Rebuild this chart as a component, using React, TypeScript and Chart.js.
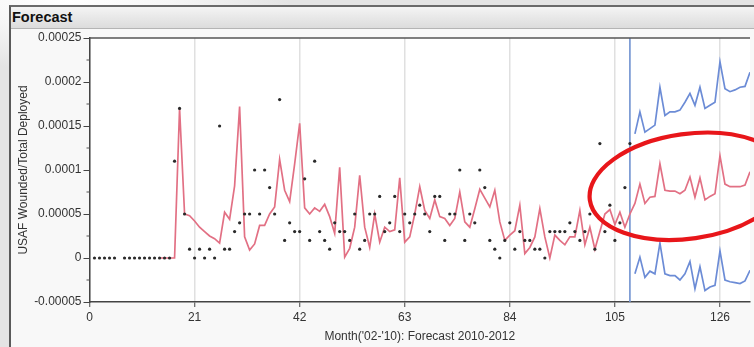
import React, { useEffect, useRef } from "react";
import { Chart, registerables } from "chart.js";

Chart.register(...registerables);

// All series values in units of 0.00001
const UNIT = 0.00001;

// Observed monthly values, months 1..108 (null = no point drawn)
const actualStartMonth = 1;
const actualValues: (number | null)[] = [
  0, 0, 0, 0, 0, null, 0, 0, 0, 0,
  0, 0, 0, 0, 0, 0, 11, 17, 5, 1,
  0, 1, 0, 1, 0, 15, 1, 1, 3, 4,
  5, 5, 10, 5, 10, 8, 5, 18, 2, 4,
  3, 3, 9, 2, 11, 3, 2, 1, 4, 3,
  3, 2, 5, 1, 2, 5, 5, 7, 3, 4,
  7, 3, 5, 4, 5, 6, 5, 3, 7, 7,
  2, 5, 5, 10, 2, 5, 4, 10, 8, 2,
  1, 0, 2, 4, 1, 3, 2, 2, 1, 1,
  0, 3, 3, 3, 3, 4, 3, 2, 3, 5,
  1, 13, 3, 6, 2, 4, 8, 13,
];

// Predicted / forecast values, months 14..132
const predictedStartMonth = 14;
const predictedValues: number[] = [
  0, 0, 0, 0, 17.0, 5.0, 4.8, 4.2, 3.5, 3.0,
  2.5, 2.2, 1.7, 5.2, 4.4, 8.2, 17.2, 2.4, 0.9, 1.6,
  3.7, 3.7, 5.0, 5.8, 11.2, 7.7, 6.4, 10.7, 15.3, 5.7,
  5.0, 5.7, 5.3, 6.1, 4.7, 2.8, 10.3, 0.1, 1.1, 3.5,
  9.4, 3.5, 1.2, 5.0, 1.8, 3.5, 3.0, 3.2, 9.1, 1.8,
  2.4, 5.0, 8.1, 5.4, 4.5, 6.6, 4.7, 4.5, 3.7, 4.5,
  7.5, 4.1, 3.5, 5.6, 7.8, 6.8, 5.8, 7.7, 4.1, 2.0,
  2.6, 3.1, 6.0, 0.5, 1.2, 2.4, 5.6, 2.4, 0.0, 2.6,
  2.0, 1.5, 2.4, 2.4, 5.4, 1.5, 3.5, 1.0, 3.0, 5.0,
  5.5, 3.8, 5.2, 3.5, 5.0, 6.2, 8.4, 6.2, 6.9, 7.0,
  10.7, 7.7, 7.6, 7.6, 7.3, 7.7, 9.2, 6.9, 9.1, 6.6,
  7.0, 7.3, 11.6, 8.4, 8.1, 8.1, 8.1, 8.3, 9.8,
];

// Confidence limits, months 109..132
const boundStartMonth = 109;
const upperValues: number[] = [
  14.1, 16.6, 14.3, 14.7, 15.1, 19.4, 16.2, 16.6, 16.6, 16.8,
  17.7, 18.7, 17.35, 19.4, 17.0, 17.35, 17.7, 22.3, 19.25, 18.9,
  19.1, 19.4, 19.5, 21.1,
];
const lowerValues: number[] = [
  -1.8, 0.1, -2.2, -1.5, -1.8, 1.7, -1.8, -2.0, -2.0, -2.5,
  -1.8, -0.4, -3.5, -1.0, -3.7, -3.3, -3.1, 0.8, -2.5, -2.7,
  -2.8, -2.9, -2.6, -1.4,
];

const forecastOriginMonth = 108;

const xMin = 0;
const xMax = 132;
const xTickValues = [0, 21, 42, 63, 84, 105, 126];
const yMin = -0.00005;
const yMax = 0.00025;
const yTickValues = [-0.00005, 0, 0.00005, 0.0001, 0.00015, 0.0002, 0.00025];
const yTickLabels = ["-0.00005", "0", "0.00005", "0.0001", "0.00015", "0.0002", "0.00025"];
const yMinorTickValues = [-0.000025, 0.000025, 0.000075, 0.000125, 0.000175, 0.000225];

const titleText = "Forecast";
const xTitle = "Month('02-'10): Forecast 2010-2012";
const yTitle = "USAF Wounded/Total Deployed";

// Annotation ellipse (in data units)
const ellipseCenterMonth = 119.7;
const ellipseCenterValue = 0.0000815;
const ellipseHalfWidthMonths = 19.9;
const ellipseHalfHeightValue = 0.0000595;
const ellipseTiltDeg = -8;

const FONT = "'Liberation Sans', Arial, sans-serif";

function toPoints(start: number, vals: (number | null)[]) {
  const pts: { x: number; y: number }[] = [];
  vals.forEach((v, i) => {
    if (v !== null) pts.push({ x: start + i, y: v * UNIT });
  });
  return pts;
}

const decorPlugin = {
  id: "decor",
  beforeDraw(chart: any) {
    const { ctx, chartArea } = chart;
    ctx.save();
    ctx.fillStyle = "#ffffff";
    ctx.fillRect(chartArea.left, chartArea.top, chartArea.right - chartArea.left, chartArea.bottom - chartArea.top);
    ctx.restore();
  },
  beforeDatasetsDraw(chart: any) {
    const { ctx, chartArea, scales } = chart;
    const x = scales.x.getPixelForValue(forecastOriginMonth);
    ctx.save();
    ctx.strokeStyle = "rgb(112,146,208)";
    ctx.lineWidth = 1.6;
    ctx.beginPath();
    ctx.moveTo(x, chartArea.top);
    ctx.lineTo(x, chartArea.bottom);
    ctx.stroke();
    ctx.restore();
  },
  afterDraw(chart: any) {
    const { ctx, chartArea, scales } = chart;
    ctx.save();
    // top frame line of plot
    ctx.strokeStyle = "#555";
    ctx.lineWidth = 1.5;
    ctx.beginPath();
    ctx.moveTo(chartArea.left, chartArea.top);
    ctx.lineTo(chartArea.right, chartArea.top);
    ctx.stroke();
    // minor y ticks
    ctx.lineWidth = 1;
    ctx.strokeStyle = "#555";
    yMinorTickValues.forEach((v) => {
      const y = scales.y.getPixelForValue(v);
      ctx.beginPath();
      ctx.moveTo(chartArea.left - 3, y);
      ctx.lineTo(chartArea.left, y);
      ctx.stroke();
    });
    // red annotation ellipse
    const cx = scales.x.getPixelForValue(ellipseCenterMonth);
    const cy = scales.y.getPixelForValue(ellipseCenterValue);
    const rx = Math.abs(scales.x.getPixelForValue(ellipseCenterMonth + ellipseHalfWidthMonths) - cx);
    const ry = Math.abs(scales.y.getPixelForValue(ellipseCenterValue + ellipseHalfHeightValue) - cy);
    ctx.strokeStyle = "rgb(232,22,26)";
    ctx.lineWidth = 4.2;
    ctx.beginPath();
    ctx.ellipse(cx, cy, rx, ry, (ellipseTiltDeg * Math.PI) / 180, 0, Math.PI * 2);
    ctx.stroke();
    ctx.restore();
  },
};

export default function App() {
  const canvasRef = useRef<HTMLCanvasElement | null>(null);

  useEffect(() => {
    if (!canvasRef.current) return;
    const chart = new Chart(canvasRef.current, {
      type: "scatter",
      data: {
        datasets: [
          {
            label: "Actual",
            data: toPoints(actualStartMonth, actualValues),
            showLine: false,
            pointRadius: 1.6,
            pointBackgroundColor: "#2a2a2a",
            pointBorderWidth: 0,
          },
          {
            label: "Predicted",
            data: toPoints(predictedStartMonth, predictedValues),
            showLine: true,
            borderColor: "rgb(226,112,132)",
            borderWidth: 1.7,
            pointRadius: 0,
            tension: 0,
          },
          {
            label: "Upper",
            data: toPoints(boundStartMonth, upperValues),
            showLine: true,
            borderColor: "rgb(108,140,214)",
            borderWidth: 1.7,
            pointRadius: 0,
          },
          {
            label: "Lower",
            data: toPoints(boundStartMonth, lowerValues),
            showLine: true,
            borderColor: "rgb(108,140,214)",
            borderWidth: 1.7,
            pointRadius: 0,
          },
        ],
      },
      options: {
        animation: false,
        responsive: false,
        maintainAspectRatio: false,
        layout: { padding: { left: 0, right: 0, top: 38, bottom: 0 } },
        plugins: { legend: { display: false }, tooltip: { enabled: false } },
        scales: {
          x: {
            type: "linear",
            min: xMin,
            max: xMax,
            afterBuildTicks: (s: any) => {
              s.ticks = xTickValues.map((v) => ({ value: v }));
            },
            afterFit: (s: any) => {
              s.height = 45;
            },
            grid: { color: "#e0e0e0", lineWidth: 1.5, tickColor: "#444", tickLength: 5, tickWidth: 1 },
            border: { color: "#444", width: 1.5 },
            ticks: { color: "#333", font: { family: FONT, size: 12 }, padding: 3, maxRotation: 0, autoSkip: false },
            title: {
              display: true,
              text: xTitle,
              color: "#333",
              font: { family: FONT, size: 12 },
              padding: { top: 0, bottom: 3 },
            },
          },
          y: {
            type: "linear",
            min: yMin,
            max: yMax,
            afterBuildTicks: (s: any) => {
              s.ticks = yTickValues.map((v) => ({ value: v }));
            },
            afterFit: (s: any) => {
              s.width = 89.5;
            },
            grid: { drawOnChartArea: false, tickColor: "#444", tickLength: 6 },
            border: { color: "#444", width: 1.5 },
            ticks: {
              color: "#333",
              font: { family: FONT, size: 12 },
              padding: 2,
              callback: (v: any) => {
                const i = yTickValues.indexOf(Number(v));
                return i >= 0 ? yTickLabels[i] : "";
              },
            },
            title: {
              display: true,
              text: yTitle,
              color: "#333",
              font: { family: FONT, size: 12 },
              padding: { top: 16, bottom: 0 },
            },
          },
        },
      },
      plugins: [decorPlugin],
    } as any);
    return () => chart.destroy();
  }, []);

  return (
    <div
      style={{
        position: "fixed",
        left: 0,
        top: 0,
        width: 754,
        height: 347,
        overflow: "hidden",
        background:
          "radial-gradient(ellipse 220px 70px at 70px 0px, #ffffff 0%, #f6f6f6 45%, #e4e4e4 100%)",
      }}
    >
      <div
        style={{
          position: "absolute",
          left: 9,
          top: 5,
          width: 760,
          height: 360,
          borderLeft: "2px solid #5a5a5a",
          borderTop: "2px solid #6a6a6a",
          background: "#f8f8f8",
        }}
      >
        <div
          style={{
            height: 21,
            lineHeight: "21px",
            paddingLeft: 1,
            background: "linear-gradient(#f4f4f4, #dcdcdc)",
            borderBottom: "1px solid #b4b4b4",
            fontFamily: FONT,
            fontWeight: "bold",
            fontSize: 14.5,
            color: "#111",
          }}
        >
          {titleText}
        </div>
      </div>
      <canvas
        ref={canvasRef}
        width={754}
        height={347}
        style={{ position: "absolute", left: 0, top: 0, width: 754, height: 347 }}
      />
    </div>
  );
}
